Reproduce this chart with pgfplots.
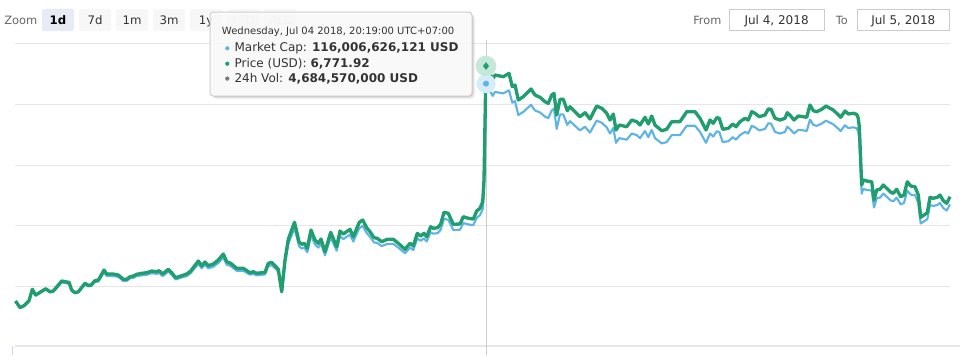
\documentclass[border=0pt]{standalone}
\usepackage{fontspec}
\setmainfont{DejaVu Sans}
\usepackage{pgfplots}
\pgfplotsset{compat=1.18}
\definecolor{pgreen}{RGB}{33,158,112}
\definecolor{mblue}{RGB}{94,180,230}
\definecolor{gridc}{RGB}{230,230,230}
\definecolor{txt}{RGB}{51,51,51}
\definecolor{lbl}{RGB}{102,102,102}
\definecolor{btn}{RGB}{247,247,247}
\definecolor{btnsel}{RGB}{230,235,245}
\definecolor{boxc}{RGB}{204,204,204}
\definecolor{volc}{RGB}{120,120,120}
\definecolor{navc}{RGB}{204,214,235}
\definecolor{ghalo}{RGB}{196,232,218}
\definecolor{bhalo}{RGB}{214,236,249}
\begin{document}
\begin{tikzpicture}
\begin{axis}[width=720pt,height=266.25pt,scale only axis,
  xmin=0,xmax=960,ymin=0,ymax=355,y dir=reverse,
  axis lines=none,clip=false]
% grid
\draw[gridc,line width=0.75pt] (axis cs:15,43.7) -- (axis cs:950,43.7);
\draw[gridc,line width=0.75pt] (axis cs:15,104) -- (axis cs:950,104);
\draw[gridc,line width=0.75pt] (axis cs:15,165) -- (axis cs:950,165);
\draw[gridc,line width=0.75pt] (axis cs:15,225.5) -- (axis cs:950,225.5);
\draw[gridc,line width=0.75pt] (axis cs:15,286) -- (axis cs:950,286);
\draw[gridc,line width=1.2pt] (axis cs:15,345.8) -- (axis cs:960,345.8);
\draw[navc,line width=0.75pt] (axis cs:12.3,346) -- (axis cs:12.3,355);
% crosshair
\draw[color=black!20,line width=0.75pt] (axis cs:486,40) -- (axis cs:486,355);
% hover halos (under the lines)
\addplot[color=bhalo,only marks,mark=*,mark size=7pt,mark options={draw=bhalo,fill=bhalo}] coordinates {(486,83.6)};
\addplot[color=ghalo,only marks,mark=*,mark size=7.5pt,mark options={draw=ghalo,fill=ghalo}] coordinates {(486,66)};
% Market cap
\addplot[mblue,line width=1.6pt,line join=round,mark=none] coordinates {
(15.5,300.9)(20,307.1)(24,305.3)(29,300.6)(32.3,290.1)(35.7,295.4)(40,292.9)(45.7,289.5)(50,292.3)(53.3,291.7)
(61.7,282.4)(66.7,283.4)(69,283.6)(71.7,290.8)(75,293.2)(78.3,292.3)(85,284.6)(88.3,286.4)(91,286.1)(95,282.1)
(98.3,281.5)(100.7,277.8)(104,272.3)(106.7,276.0)(113.3,276.0)(118.3,276.9)(123.3,280.9)(126.7,280.9)(130,278.4)(133.3,277.8)
(136.7,276.2)(141.7,275.3)(146.7,274.7)(151.7,273.2)(156.7,273.8)(159,272.9)(162.7,276.0)(168.3,271.6)(171.7,274.7)(175.7,279.4)
(181.7,277.5)(186.7,276.0)(190.7,273.2)(198.3,263.9)(201.7,268.3)(205,264.9)(208.3,268.3)(213.3,266.7)(218.3,263.0)(223.3,257.5)
(226.7,264.6)(230.7,266.1)(236.7,270.7)(243.3,270.7)(250,274.7)(253.3,273.8)(256.7,275.3)(265,274.4)(268.3,266.1)(271.7,265.1)
(276,269.2)(278.3,271.6)(281.7,292.3)(285,263.0)(288.3,243.9)(294.5,228.1)(299,246.1)(301.7,248.5)(304.3,247.6)(307.3,252.2)
(311,235.3)(315,244.5)(318.3,247.6)(321,243.6)(325,255.3)(330.7,237.4)(336.7,250.7)(340,236.2)(343.3,239.0)(350,234.6)
(353.3,241.5)(359.3,228.1)(362.7,226.0)(366.7,233.1)(370,236.8)(374,242.4)(377.3,242.9)(381.7,246.1)(387.3,243.9)(393.3,243.9)
(398.3,247.6)(405,253.1)(410,247.6)(413.3,250.1)(417.3,238.3)(420.7,240.8)(424,238.3)(426.7,241.5)(430.7,232.2)(433.3,233.7)
(437.7,233.1)(440.7,229.7)(444,218.9)(448.3,219.8)(453.3,230.0)(460,229.7)(463.3,223.0)(468.3,224.4)(473.3,225.1)(476.7,217.7)
(480,215.2)(482.7,209.1)(484,189.0)(486,83.6)(487,86.3)(492.7,95.9)(495,91.9)(503.3,93.4)(509,90.3)(512.3,102.7)
(515,101.1)(518.3,115.0)(523.3,111.9)(531,104.8)(535,110.4)(540,112.5)(545,116.6)(548.3,118.1)(551.7,110.4)(554,108.8)
(556.7,128.9)(560,114.4)(563.3,114.4)(567.3,124.9)(570,121.2)(575,125.8)(580,130.4)(585,126.7)(590,132.6)(596.7,120.6)
(601.7,122.7)(606.7,127.3)(610,133.5)(613.3,128.0)(616,142.8)(619.3,138.1)(626.7,139.7)(631.7,133.5)(636.7,135.1)(640,138.1)
(645,131.0)(648.3,137.2)(651.7,129.8)(655,138.1)(661.7,143.4)(666.7,142.1)(671.7,135.1)(680,135.1)(686.7,125.8)(695,125.8)
(700,131.9)(706,142.8)(710,133.5)(713.3,136.6)(716.7,131.4)(719.3,131.9)(722.7,142.1)(728.3,141.2)(732.7,137.2)(736,139.7)
(740,135.1)(745,131.9)(748.3,133.5)(751.7,125.8)(755,127.3)(759.3,130.4)(765,128.9)(768.3,123.3)(771,123.6)(775,131.9)
(780,133.5)(785,131.9)(787.3,126.7)(790.7,129.8)(794,133.5)(798.3,129.8)(803.3,130.4)(806.7,131.0)(810,119.6)(813.3,124.9)
(816.7,125.8)(821.7,123.6)(826,120.6)(830,122.7)(833.3,124.3)(836.7,127.3)(840.7,131.0)(845,125.2)(848.3,128.0)(853.3,127.3)
(856.7,128.2)(858.3,131.9)(859.3,139.7)(861.7,193.6)(863.3,189.0)(866.7,189.9)(871.7,190.6)(874,207.5)(876.7,198.3)(880,197.6)
(883.3,193.6)(886.7,196.7)(890.7,200.4)(893.3,201.3)(896.7,197.6)(900.7,204.4)(904,202.9)(907.3,190.6)(910.7,194.6)(915,195.2)
(918.3,202.9)(920.7,223.5)(924,221.4)(927.3,219.2)(930,205.0)(933.3,205.9)(937.3,205.0)(940,202.9)(943.3,208.1)(946.7,210.5)
(950,204.4)};
% Price
\addplot[pgreen,line width=2.5pt,line join=round,mark=none] coordinates {
(15.5,301)(20,307.7)(24,305.7)(29,300.7)(32.3,289.3)(35.7,295)(40,292.3)(45.7,288.7)(50,291.7)(53.3,291)
(61.7,281)(66.7,282)(69,282.3)(71.7,290)(75,292.7)(78.3,291.7)(85,283.3)(88.3,285.3)(91,285)(95,280.7)
(98.3,280)(100.7,276)(104,270)(106.7,274)(113.3,274)(118.3,275)(123.3,279.3)(126.7,279.3)(130,276.7)(133.3,276)
(136.7,274.3)(141.7,273.3)(146.7,272.7)(151.7,271)(156.7,271.7)(159,270.7)(162.7,274)(168.3,269.3)(171.7,272.7)(175.7,277.7)
(181.7,275.7)(186.7,274)(190.7,271)(198.3,261)(201.7,265.7)(205,262)(208.3,265.7)(213.3,264)(218.3,260)(223.3,254)
(226.7,261.7)(230.7,263.3)(236.7,268.3)(243.3,268.3)(250,272.7)(253.3,271.7)(256.7,273.3)(265,272.3)(268.3,263.3)(271.7,262.3)
(276,266.7)(278.3,269.3)(281.7,291.7)(285,260)(288.3,239.3)(294.5,222.3)(299,241.7)(301.7,244.3)(304.3,243.3)(307.3,248.3)
(311,230)(315,240)(318.3,243.3)(321,239)(325,251.7)(330.7,232.3)(336.7,246.7)(340,231)(343.3,234)(350,229.3)
(353.3,236.7)(359.3,222.3)(362.7,220)(366.7,227.7)(370,231.7)(374,237.7)(377.3,238.3)(381.7,241.7)(387.3,239.3)(393.3,239.3)
(398.3,243.3)(405,249.3)(410,243.3)(413.3,246)(417.3,233.3)(420.7,236)(424,233.3)(426.7,236.7)(430.7,226.7)(433.3,228.3)
(437.7,227.7)(440.7,224)(444,212.3)(448.3,213.3)(453.3,224.3)(460,224)(463.3,216.7)(468.3,218.3)(473.3,219)(476.7,211)
(480,208.3)(482.7,201.7)(484,180)(486,66)(487,69)(492.7,79.3)(495,75)(503.3,76.7)(509,73.3)(512.3,86.7)
(515,85)(518.3,100)(523.3,96.7)(531,89)(535,95)(540,97.3)(545,101.7)(548.3,103.3)(551.7,95)(554,93.3)
(556.7,115)(560,99.3)(563.3,99.3)(567.3,110.7)(570,106.7)(575,111.7)(580,116.7)(585,112.7)(590,119)(596.7,106)
(601.7,108.3)(606.7,113.3)(610,120)(613.3,114)(616,130)(619.3,125)(626.7,126.7)(631.7,120)(636.7,121.7)(640,125)
(645,117.3)(648.3,124)(651.7,116)(655,125)(661.7,130.7)(666.7,129.3)(671.7,121.7)(680,121.7)(686.7,111.7)(695,111.7)
(700,118.3)(706,130)(710,120)(713.3,123.3)(716.7,117.7)(719.3,118.3)(722.7,129.3)(728.3,128.3)(732.7,124)(736,126.7)
(740,121.7)(745,118.3)(748.3,120)(751.7,111.7)(755,113.3)(759.3,116.7)(765,115)(768.3,109)(771,109.3)(775,118.3)
(780,120)(785,118.3)(787.3,112.7)(790.7,116)(794,120)(798.3,116)(803.3,116.7)(806.7,117.3)(810,105)(813.3,110.7)
(816.7,111.7)(821.7,109.3)(826,106)(830,108.3)(833.3,110)(836.7,113.3)(840.7,117.3)(845,111)(848.3,114)(853.3,113.3)
(856.7,114.3)(858.3,118.3)(859.3,126.7)(861.7,185)(863.3,180)(866.7,181)(871.7,181.7)(874,200)(876.7,190)(880,189.3)
(883.3,185)(886.7,188.3)(890.7,192.3)(893.3,193.3)(896.7,189.3)(900.7,196.7)(904,195)(907.3,181.7)(910.7,186)(915,186.7)
(918.3,195)(920.7,217.3)(924,215)(927.3,212.7)(930,197.3)(933.3,198.3)(937.3,197.3)(940,195)(943.3,200.7)(946.7,203.3)
(950,196.7)};
% hover points
\addplot[color=mblue,only marks,mark=*,mark size=2pt,mark options={draw=mblue,fill=mblue}] coordinates {(486,83.6)};
\addplot[color=pgreen,only marks,mark=diamond*,mark size=2.6pt,mark options={draw=pgreen,fill=pgreen}] coordinates {(486,66)};
% range selector
\node[anchor=base west,inner sep=0,text=lbl,font=\fontsize{8.6pt}{10pt}\selectfont] at (axis cs:4,24) {Zoom};
\fill[btnsel,rounded corners=1.5pt] (axis cs:42,9) rectangle (axis cs:74,31);
\fill[btn,rounded corners=1.5pt] (axis cs:79,9) rectangle (axis cs:111,31);
\fill[btn,rounded corners=1.5pt] (axis cs:116,9) rectangle (axis cs:148,31);
\fill[btn,rounded corners=1.5pt] (axis cs:153,9) rectangle (axis cs:185,31);
\fill[btn,rounded corners=1.5pt] (axis cs:190,9) rectangle (axis cs:222,31);
\fill[btn,rounded corners=1.5pt] (axis cs:227,9) rectangle (axis cs:259,31);
\fill[btn,rounded corners=1.5pt] (axis cs:264,9) rectangle (axis cs:296,31);
\node[anchor=base,inner sep=0,text=black,font=\fontsize{8.8pt}{10pt}\selectfont\bfseries] at (axis cs:58,24) {1d};
\node[anchor=base,inner sep=0,text=txt,font=\fontsize{8.8pt}{10pt}\selectfont] at (axis cs:95,24) {7d};
\node[anchor=base,inner sep=0,text=txt,font=\fontsize{8.8pt}{10pt}\selectfont] at (axis cs:132,24) {1m};
\node[anchor=base,inner sep=0,text=txt,font=\fontsize{8.8pt}{10pt}\selectfont] at (axis cs:169,24) {3m};
\node[anchor=base,inner sep=0,text=txt,font=\fontsize{8.8pt}{10pt}\selectfont] at (axis cs:206,24) {1y};
\node[anchor=base,inner sep=0,text=black!25,font=\fontsize{8.8pt}{10pt}\selectfont] at (axis cs:243,24) {YTD};
\node[anchor=base,inner sep=0,text=black!25,font=\fontsize{8.8pt}{10pt}\selectfont] at (axis cs:280,24) {ALL};
% date inputs
\node[anchor=base west,inner sep=0,text=lbl,font=\fontsize{8.5pt}{10pt}\selectfont] at (axis cs:693,24) {From};
\draw[boxc,line width=0.75pt,fill=white] (axis cs:729.3,9.3) rectangle (axis cs:824,30.7);
\node[anchor=base,inner sep=0,text=txt,font=\fontsize{9pt}{10pt}\selectfont] at (axis cs:776.6,24) {Jul 4, 2018};
\node[anchor=base west,inner sep=0,text=lbl,font=\fontsize{8.5pt}{10pt}\selectfont] at (axis cs:835.7,24) {To};
\draw[boxc,line width=0.75pt,fill=white] (axis cs:857.3,9.3) rectangle (axis cs:949.3,30.7);
\node[anchor=base,inner sep=0,text=txt,font=\fontsize{9pt}{10pt}\selectfont] at (axis cs:903.3,24) {Jul 5, 2018};
% tooltip
\fill[black,opacity=0.05,rounded corners=3pt] (axis cs:213,15) rectangle (axis cs:475,99);
\fill[black,opacity=0.07,rounded corners=3pt] (axis cs:212,14) rectangle (axis cs:474,98);
\fill[black,opacity=0.09,rounded corners=3pt] (axis cs:211,13) rectangle (axis cs:473,97);
\filldraw[draw=boxc,line width=0.75pt,fill=white,fill opacity=0.88,rounded corners=2.5pt] (axis cs:210,12) rectangle (axis cs:472,96);
\node[anchor=base west,inner sep=0,text=txt,font=\fontsize{7.5pt}{9pt}\selectfont] at (axis cs:221.7,34.5) {Wednesday, Jul 04 2018, 20:19:00 UTC+07:00};
\fill[mblue] (axis cs:227.3,48.3) circle[radius=1.6pt];
\fill[pgreen] (axis cs:227.3,63.7) circle[radius=1.6pt];
\fill[volc] (axis cs:227.3,78.6) circle[radius=1.6pt];
\node[anchor=base west,inner sep=0,text=txt,font=\fontsize{9pt}{10pt}\selectfont] at (axis cs:234.3,51.7) {Market Cap: \textbf{116,006,626,121 USD}};
\node[anchor=base west,inner sep=0,text=txt,font=\fontsize{9pt}{10pt}\selectfont] at (axis cs:234.3,67.2) {Price (USD): \textbf{6,771.92}};
\node[anchor=base west,inner sep=0,text=txt,font=\fontsize{9pt}{10pt}\selectfont] at (axis cs:234.3,82.7) {24h Vol: \textbf{4,684,570,000 USD}};
\end{axis}
\pgfresetboundingbox
\path (current axis.south west) rectangle (current axis.north east);
\end{tikzpicture}
\end{document}
